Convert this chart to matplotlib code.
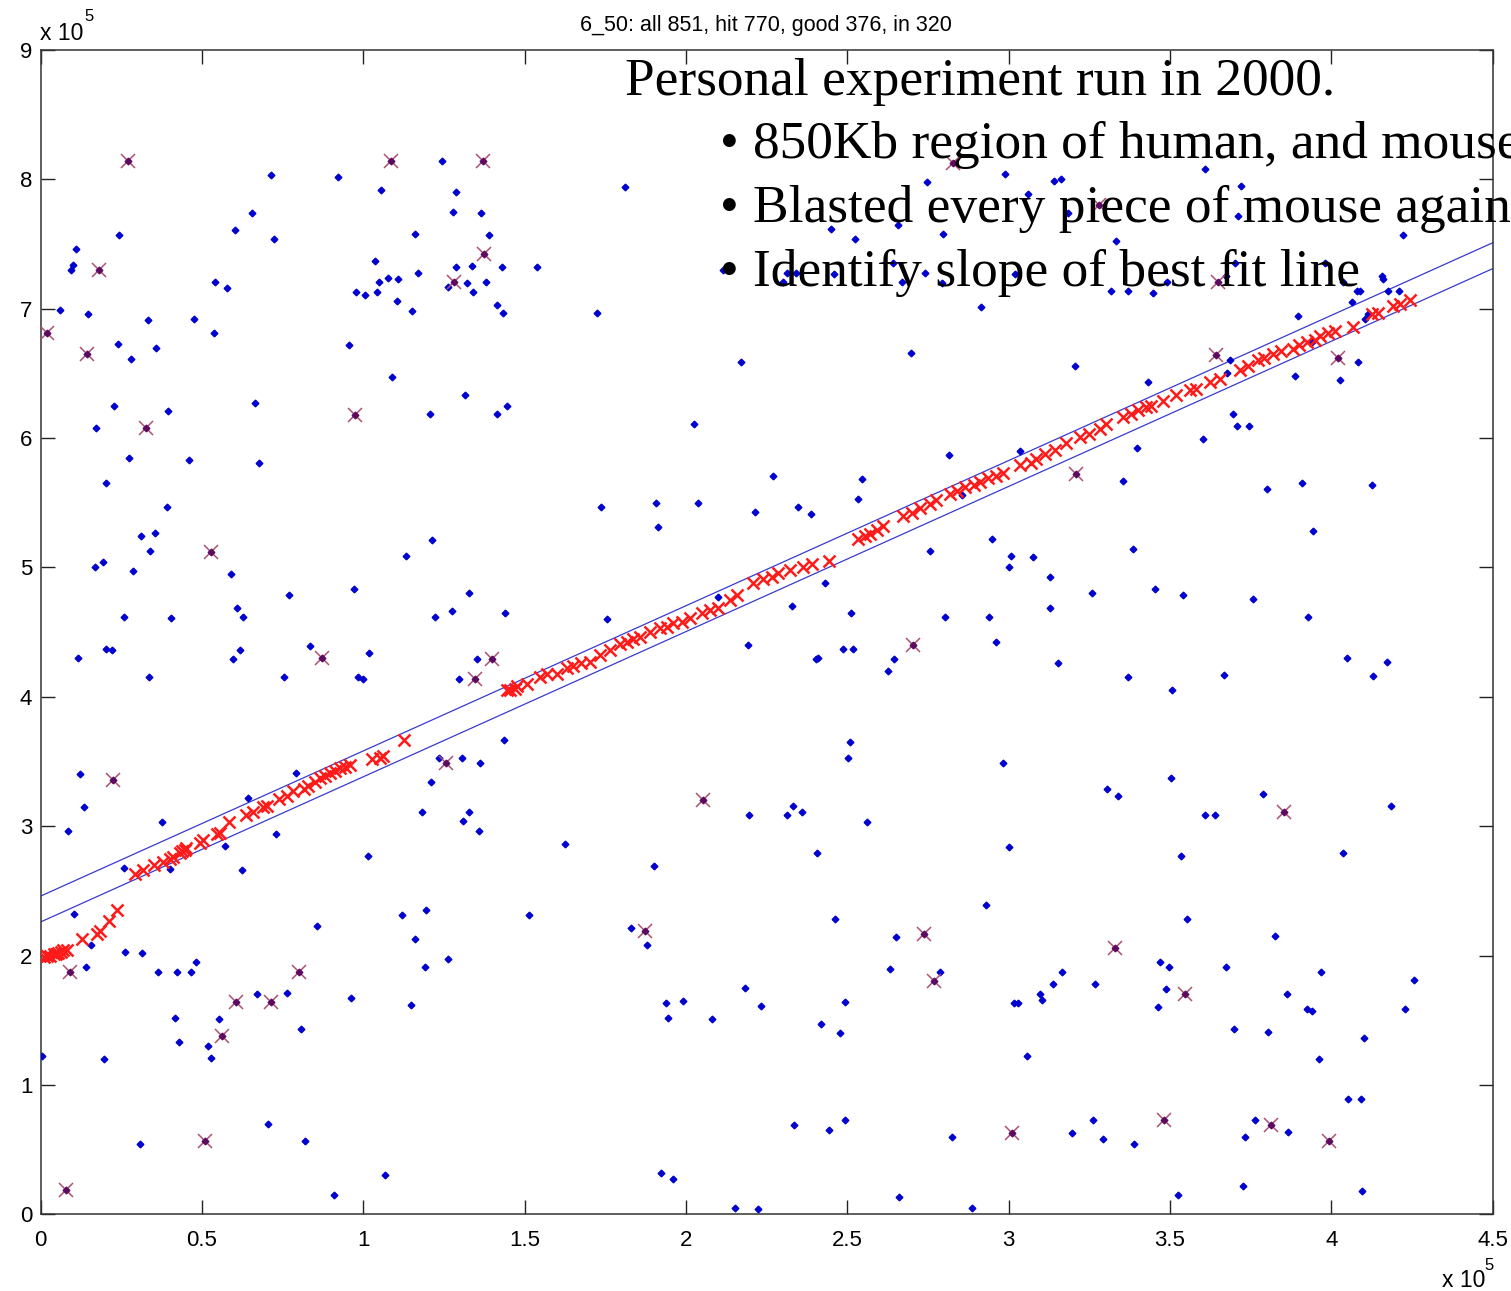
import numpy as np
import matplotlib
matplotlib.use('Agg')
import matplotlib.pyplot as plt

# values in units of 1e5 (x = human position, y = mouse position)
blue_x = [0.060, 0.108, 0.099, 0.095, 0.148, 0.244, 0.333, 0.241, 0.358, 0.281, 0.228, 0.170, 0.395, 0.476, 0.536,
          0.539, 0.576, 0.602, 0.654, 0.713, 0.723, 0.664, 0.922, 0.955, 0.978, 1.004, 1.037, 1.041, 1.048, 1.055,
          1.077, 1.107, 1.103, 1.089, 1.152, 1.159, 1.170, 1.206, 1.244, 1.277, 1.288, 1.288, 1.262, 1.320, 1.336,
          1.339, 1.314, 1.364, 1.390, 1.380, 1.429, 1.413, 1.432, 1.413, 1.446,
          1.812, 1.539, 1.723, 2.025, 2.170, 2.698, 2.915, 2.746, 2.989, 2.450, 2.524, 2.658, 2.797, 2.115, 2.312,
          2.340, 2.299, 2.458, 2.642, 2.668, 2.742, 2.793, 3.019,
          3.140, 3.162, 3.609, 3.060, 3.184, 3.719, 3.712, 4.222, 3.334, 3.318, 3.369, 3.447, 3.490, 3.701, 3.675,
          3.980, 4.037, 4.157, 4.161, 4.078, 4.088, 4.176, 4.210, 4.063, 3.897, 3.207, 3.431, 3.685, 3.678, 3.887,
          4.081, 4.026, 3.694, 3.709, 3.744, 3.601, 4.104, 4.112, 3.939, 2.855,
          0.273, 0.203, 0.459, 0.676, 0.392, 0.310, 0.354, 0.340, 0.167, 0.192, 0.285, 0.258, 0.403, 0.591, 0.608,
          0.628, 0.770, 0.115, 0.203, 0.222, 0.337, 0.595, 0.617, 0.835, 0.753, 0.971, 1.132, 1.214, 1.328, 1.274,
          1.222, 1.439, 1.017, 0.984, 0.998, 1.351, 1.296, 1.436, 0.122, 0.134, 0.085, 0.377, 0.641, 0.790, 0.730,
          0.570, 1.014, 1.233, 1.307, 1.361, 1.210, 1.182, 1.328, 1.310, 1.358,
          2.816, 2.268, 2.546, 2.532, 1.738, 1.908, 2.037, 1.912, 2.213, 2.348, 2.387, 2.948, 2.756, 3.008, 3.000,
          2.431, 2.328, 2.512, 2.804, 2.938, 2.962, 1.756, 2.192, 2.487, 2.516, 2.402, 2.410, 2.645, 2.627, 2.100,
          2.508, 2.501, 2.981, 2.332, 2.196, 2.314, 2.358, 2.561, 1.624, 2.406, 3.000,
          3.398, 3.034, 3.354, 3.800, 3.908, 4.126, 3.944, 3.384, 3.074, 3.129, 3.259, 3.454, 3.539, 3.757, 3.129,
          3.929, 3.152, 4.048, 4.173, 4.129, 3.369, 3.668, 3.505, 3.502, 3.306, 3.339, 3.789, 3.608, 3.639, 4.184,
          3.535, 4.037,
          0.259, 0.402, 0.624, 0.103, 0.856, 1.119, 1.195, 1.159, 0.155, 0.261, 0.314, 0.140, 0.365, 0.421, 0.465,
          0.480, 1.192, 1.262, 0.670, 0.764, 0.963, 1.147, 0.417, 0.553, 0.429, 0.520, 0.528, 0.806, 0.003, 0.196,
          0.705, 0.307, 0.819, 1.067, 0.908,
          1.900, 1.513, 2.930, 2.461, 1.830, 1.878, 2.650, 2.631, 2.787, 2.182, 1.938, 1.990, 1.945, 2.081, 2.232,
          2.494, 2.417, 2.476, 3.015, 3.030, 2.335, 2.443, 2.492, 2.823, 1.922, 1.959, 2.661, 2.152, 2.222, 2.885,
          3.554, 3.826, 3.469, 3.498, 3.675, 3.166, 3.136, 3.269, 3.967, 4.255, 3.096, 3.103, 3.487, 3.864, 3.464,
          3.925, 3.941, 4.228, 3.698, 3.804, 4.100, 3.057, 3.962, 4.051, 4.092, 3.262, 3.764, 3.195, 3.292, 3.387,
          3.731, 3.867, 3.524, 3.727, 4.095]
blue_y = [6.99, 7.46, 7.34, 7.30, 6.96, 7.57, 6.91, 6.73, 6.70, 6.61, 6.25, 6.08, 6.21, 6.92, 6.81,
          7.21, 7.16, 7.61, 7.74, 8.03, 7.54, 6.27, 8.02, 6.72, 7.13, 7.11, 7.37, 7.13, 7.21, 7.92,
          7.24, 7.23, 7.06, 6.47, 6.98, 7.58, 7.28, 6.19, 8.14, 7.75, 7.90, 7.32, 7.17, 7.20, 7.33,
          7.13, 6.33, 7.74, 7.57, 7.21, 7.32, 7.03, 6.97, 6.19, 6.25,
          7.94, 7.32, 6.97, 6.11, 6.59, 6.66, 7.01, 7.98, 8.04, 7.62, 7.54, 7.65, 7.58, 7.30, 7.28,
          7.28, 7.21, 7.27, 7.35, 7.21, 7.28, 7.20, 7.27,
          7.99, 8.00, 8.08, 7.89, 7.74, 7.95, 7.72, 7.57, 7.52, 7.14, 7.14, 7.12, 7.21, 7.35, 7.25,
          7.35, 7.21, 7.25, 7.23, 7.14, 7.14, 7.14, 7.14, 7.05, 6.94, 6.56, 6.43, 6.60, 6.50, 6.48,
          6.59, 6.45, 6.19, 6.09, 6.09, 5.99, 6.92, 6.96, 6.74, 5.56,
          5.85, 5.65, 5.83, 5.81, 5.47, 5.24, 5.27, 5.13, 5.00, 5.04, 4.97, 4.62, 4.61, 4.95, 4.69,
          4.62, 4.79, 4.30, 4.37, 4.36, 4.15, 4.29, 4.36, 4.39, 4.15, 4.83, 5.09, 5.21, 4.80, 4.66,
          4.62, 4.65, 4.34, 4.15, 4.14, 4.29, 4.14, 3.67, 3.40, 3.15, 2.96, 3.03, 3.22, 3.41, 2.94,
          2.85, 2.77, 3.53, 3.53, 3.49, 3.34, 3.11, 3.11, 3.04, 2.96,
          5.87, 5.71, 5.68, 5.53, 5.47, 5.50, 5.50, 5.31, 5.43, 5.47, 5.41, 5.22, 5.13, 5.09, 5.00,
          4.88, 4.70, 4.65, 4.62, 4.62, 4.42, 4.60, 4.40, 4.37, 4.37, 4.29, 4.30, 4.29, 4.20, 4.77,
          3.65, 3.53, 3.49, 3.16, 3.09, 3.09, 3.11, 3.03, 2.86, 2.79, 2.84,
          5.92, 5.90, 5.67, 5.61, 5.65, 5.64, 5.28, 5.14, 5.08, 4.93, 4.80, 4.83, 4.79, 4.76, 4.69,
          4.62, 4.26, 4.30, 4.27, 4.16, 4.15, 4.17, 4.05, 3.37, 3.29, 3.23, 3.25, 3.09, 3.09, 3.16,
          2.77, 2.79,
          2.68, 2.67, 2.66, 2.32, 2.23, 2.31, 2.35, 2.13, 2.08, 2.03, 2.02, 1.91, 1.875, 1.875, 1.875,
          1.95, 1.91, 1.97, 1.70, 1.71, 1.67, 1.62, 1.52, 1.51, 1.33, 1.30, 1.21, 1.43, 1.22, 1.20,
          0.70, 0.54, 0.57, 0.30, 0.15,
          2.69, 2.31, 2.39, 2.28, 2.21, 2.08, 2.14, 1.90, 1.875, 1.75, 1.63, 1.65, 1.52, 1.51, 1.61,
          1.64, 1.47, 1.40, 1.63, 1.63, 0.69, 0.65, 0.73, 0.60, 0.32, 0.27, 0.13, 0.05, 0.04, 0.05,
          2.28, 2.15, 1.95, 1.91, 1.91, 1.875, 1.78, 1.78, 1.875, 1.81, 1.70, 1.66, 1.74, 1.70, 1.60,
          1.59, 1.57, 1.59, 1.43, 1.41, 1.36, 1.22, 1.20, 0.89, 0.89, 0.73, 0.73, 0.63, 0.58, 0.54,
          0.60, 0.64, 0.15, 0.22, 0.18]

# hits that fall on the diagonal
red_x = [0.010, 0.020, 0.029, 0.040, 0.048, 0.055, 0.063, 0.070, 0.080, 0.128, 0.176, 0.184, 0.213, 0.236,
         0.292, 0.318, 0.350, 0.380, 0.401, 0.411, 0.432, 0.437, 0.447, 0.450, 0.494, 0.504, 0.545, 0.555, 0.583,
         0.636, 0.659, 0.690, 0.700, 0.739, 0.762, 0.783, 0.816, 0.829, 0.850, 0.866, 0.881, 0.897, 0.912, 0.927,
         0.943, 0.958, 1.026, 1.052, 1.062, 1.125,
         1.444, 1.454, 1.470, 1.475, 1.506, 1.547, 1.568, 1.600, 1.630, 1.651, 1.676, 1.702, 1.733, 1.764, 1.795,
         1.816, 1.836, 1.857, 1.888, 1.919, 1.940, 1.960, 1.986, 2.012, 2.048, 2.074, 2.100, 2.136, 2.157, 2.208,
         2.239, 2.265, 2.286, 2.322, 2.363, 2.389, 2.442,
         2.534, 2.555, 2.570, 2.591, 2.611, 2.673, 2.699, 2.725, 2.756, 2.776, 2.818, 2.839, 2.865, 2.891, 2.911,
         2.937, 2.962, 2.983, 3.035, 3.070, 3.086, 3.112, 3.143, 3.179, 3.221, 3.250, 3.283, 3.303, 3.355, 3.380,
         3.401, 3.427, 3.440, 3.479, 3.520, 3.562, 3.580, 3.623, 3.655, 3.716, 3.742, 3.773, 3.790, 3.820, 3.845,
         3.882, 3.900, 3.923, 3.948, 3.964, 3.990, 4.011, 4.068, 4.125, 4.145, 4.192, 4.212, 4.243]
red_y = [1.99, 2.00, 2.00, 2.01, 2.01, 2.02, 2.03, 2.04, 2.045, 2.13, 2.17, 2.19, 2.27, 2.35,
         2.63, 2.66, 2.70, 2.72, 2.75, 2.76, 2.79, 2.81, 2.815, 2.83, 2.87, 2.89, 2.94, 2.95, 3.03,
         3.09, 3.11, 3.145, 3.16, 3.21, 3.23, 3.27, 3.29, 3.31, 3.34, 3.37, 3.39, 3.41, 3.43, 3.45,
         3.46, 3.47, 3.52, 3.53, 3.54, 3.67,
         4.05, 4.05, 4.06, 4.08, 4.10, 4.155, 4.18, 4.18, 4.22, 4.24, 4.26, 4.27, 4.32, 4.36, 4.41,
         4.42, 4.45, 4.46, 4.50, 4.53, 4.54, 4.57, 4.58, 4.61, 4.65, 4.67, 4.69, 4.75, 4.79, 4.88,
         4.91, 4.93, 4.96, 4.98, 5.00, 5.03, 5.05,
         5.22, 5.24, 5.26, 5.29, 5.32, 5.40, 5.42, 5.46, 5.49, 5.52, 5.57, 5.59, 5.62, 5.64, 5.66,
         5.69, 5.71, 5.73, 5.79, 5.81, 5.84, 5.88, 5.91, 5.96, 6.01, 6.03, 6.07, 6.11, 6.16, 6.19,
         6.22, 6.24, 6.25, 6.29, 6.33, 6.37, 6.38, 6.43, 6.46, 6.53, 6.56, 6.60, 6.62, 6.65, 6.67,
         6.69, 6.72, 6.74, 6.76, 6.79, 6.81, 6.83, 6.86, 6.96, 6.97, 7.02, 7.04, 7.07]

# good hits off the diagonal
good_x = [0.270, 0.182, 0.020, 0.144, 0.325, 1.086, 1.370, 1.373, 1.281, 0.975, 2.826, 3.280, 3.648, 3.642,
          4.022, 0.528, 0.871, 1.400, 1.347, 0.225, 1.256, 2.702, 2.052, 3.210, 3.852, 0.092, 0.801, 0.606,
          0.714, 0.562, 0.510, 0.078, 1.874, 2.737, 2.770, 3.011, 3.329, 3.547, 3.480, 3.812, 3.992]
good_y = [8.14, 7.30, 6.81, 6.65, 6.08, 8.14, 8.14, 7.42, 7.21, 6.18, 8.13, 7.80, 7.21, 6.64,
          6.62, 5.12, 4.30, 4.29, 4.14, 3.36, 3.49, 4.40, 3.20, 5.72, 3.11, 1.87, 1.87, 1.64,
          1.64, 1.38, 0.57, 0.19, 2.19, 2.17, 1.80, 0.63, 2.06, 1.70, 0.73, 0.69, 0.57]

# band around best fit line
band_x = [0.0, 4.5]
band_upper = [2.46, 7.51]
band_lower = [2.26, 7.31]

W, H = 1511, 1291
fig = plt.figure(figsize=(W / 100, H / 100), dpi=100)
fig.patch.set_facecolor('white')
ax = fig.add_axes([40.7 / W, 1 - 1214.3 / H, 1452.0 / W, 1164.3 / H])

sans = 'Liberation Sans'
serif = 'Liberation Serif'

ax.plot(band_x, band_upper, color='#3a3ad0', lw=0.9, zorder=2)
ax.plot(band_x, band_lower, color='#3a3ad0', lw=0.9, zorder=2)
ax.plot(blue_x, blue_y, ls='none', marker='D', ms=3.4, color='#0000d0', zorder=3)
ax.plot(red_x, red_y, ls='none', marker='x', ms=9, mew=1.8, color='#ff1a1a', zorder=4)
ax.plot(good_x, good_y, ls='none', marker='x', ms=10, mew=1.1, color='#b05070', zorder=5)
ax.plot(good_x, good_y, ls='none', marker='D', ms=3.4, color='#5a0a60', zorder=6)

ax.set_xlim(0, 4.5)
ax.set_ylim(0, 9)
ax.set_xticks(np.arange(0, 4.51, 0.5))
ax.set_xticklabels(['0', '0.5', '1', '1.5', '2', '2.5', '3', '3.5', '4', '4.5'])
ax.set_yticks(range(10))
ax.tick_params(direction='in', length=10, width=1, top=True, right=True, labelsize=16, colors='#222222')
ax.tick_params(axis='x', pad=11)
ax.tick_params(axis='y', pad=6)
for lab in ax.get_xticklabels() + ax.get_yticklabels():
    lab.set_family(sans)
    lab.set_color('black')
for s in ax.spines.values():
    s.set_linewidth(1.1)
    s.set_color('#333333')

def px(x, y):
    return x / W, 1 - y / H

# title and exponent labels
fig.text(*px(766, 31), '6_50: all 851, hit 770, good 376, in 320', ha='center', va='baseline',
         family=sans, fontsize=15.5)
fig.text(*px(40, 40), 'x 10', ha='left', va='baseline', family=sans, fontsize=16.5)
fig.text(*px(84, 21), '5', ha='left', va='baseline', family=sans, fontsize=12)
fig.text(*px(1442, 1287), 'x 10', ha='left', va='baseline', family=sans, fontsize=16.5)
fig.text(*px(1484, 1270), '5', ha='left', va='baseline', family=sans, fontsize=12)

# slide text on top of the plot
fig.text(*px(625, 95), 'Personal experiment run in 2000.', ha='left', va='baseline', family=serif, fontsize=38.4)
bullets = ['850Kb region of human, and mouse', 'Blasted every piece of mouse against human',
           'Identify slope of best fit line']
for i, b in enumerate(bullets):
    yb = 158 + i * 64
    fig.text(*px(720, yb), '\u2022', ha='left', va='baseline', family=serif, fontsize=38.4)
    fig.text(*px(753, yb), b, ha='left', va='baseline', family=serif, fontsize=38.4)

fig.savefig('out.png', dpi=100)
